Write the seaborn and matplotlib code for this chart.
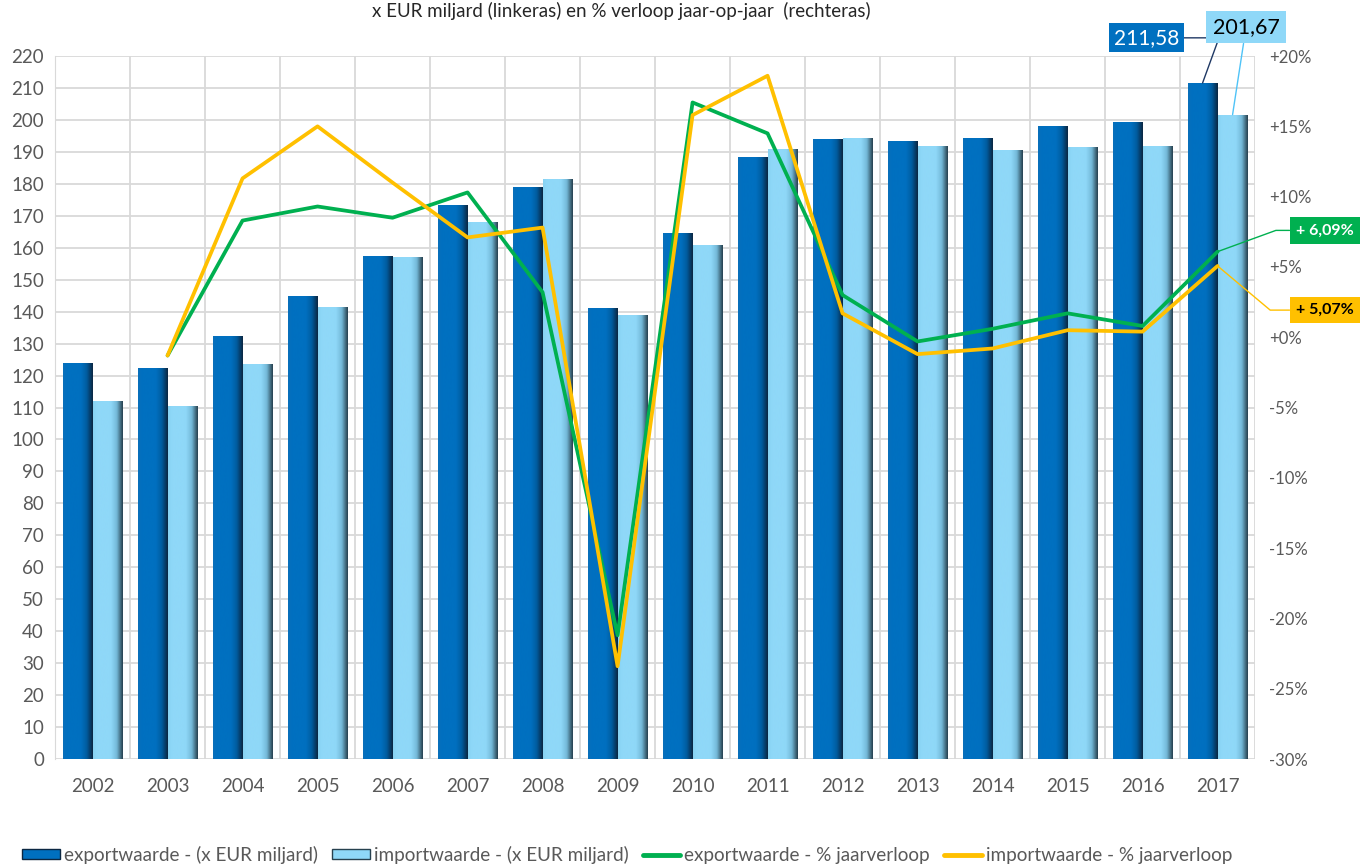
import numpy as np
import pandas as pd
import matplotlib
matplotlib.use("Agg")
import matplotlib.pyplot as plt
from matplotlib.colors import LinearSegmentedColormap
from matplotlib.lines import Line2D
from matplotlib.patches import Patch
import seaborn as sns

# data
years = ['2002', '2003', '2004', '2005', '2006', '2007', '2008', '2009',
         '2010', '2011', '2012', '2013', '2014', '2015', '2016', '2017']
export_value = [124, 122.5, 132.5, 145, 157.5, 173.5, 179, 141,
                164.5, 188.5, 194, 193.5, 194.5, 198, 199.5, 211.58]
import_value = [112, 110.5, 123.5, 141.5, 157, 168, 181.5, 139,
                161, 191, 194.5, 192, 190.5, 191.5, 192, 201.67]
# year-on-year %, starting in 2003
pct_years = years[1:]
export_pct = [-1.3, 8.3, 9.3, 8.5, 10.3, 3.2, -21.2, 16.7,
              14.5, 3.0, -0.3, 0.6, 1.7, 0.8, 6.09]
import_pct = [-1.3, 11.3, 15.0, 11.0, 7.1, 7.8, -23.4, 15.8,
              18.6, 1.7, -1.2, -0.8, 0.5, 0.4, 5.07]

exp_label = 'exportwaarde - (x EUR miljard)'
imp_label = 'importwaarde - (x EUR miljard)'
exp_pct_label = 'exportwaarde - % jaarverloop'
imp_pct_label = 'importwaarde - % jaarverloop'

c_exp = '#0070C0'
c_imp = '#8FD8F8'
c_green = '#00B050'
c_yellow = '#FFC000'
txt = '#595959'

sns.set_style('white')
plt.rcParams['font.family'] = ['Lato', 'DejaVu Sans']

bars = pd.DataFrame({
    'jaar': years * 2,
    'waarde': export_value + import_value,
    'reeks': [exp_label] * len(years) + [imp_label] * len(years),
})

fig = plt.figure(figsize=(13.66, 8.65), dpi=100)
ax = fig.add_axes([0.0403, 0.1225, 0.8785, 0.8127])

sns.barplot(data=bars, x='jaar', y='waarde', hue='reeks',
            palette=[c_exp, c_imp], saturation=1, width=0.78, dodge=True,
            ax=ax, legend=False, zorder=2)

# shaded "3D" look: horizontal gradient clipped to each bar
cm_exp = LinearSegmentedColormap.from_list(
    'e', [(0, '#0A6FBA'), (0.12, '#0070C0'), (0.6, '#0070C0'), (0.8, '#005C9F'), (1, '#0B2742')])
cm_imp = LinearSegmentedColormap.from_list(
    'i', [(0, '#86D2F2'), (0.12, '#8FD8F8'), (0.6, '#8FD8F8'), (0.8, '#74B9D8'), (1, '#27414F')])
grad = np.linspace(0, 1, 64).reshape(1, -1)
n = len(years)
for i, p in enumerate(ax.patches[:2 * n]):
    p.set_linewidth(0)
    x0, w, h = p.get_x(), p.get_width(), p.get_height()
    im = ax.imshow(grad, cmap=cm_exp if i < n else cm_imp, aspect='auto',
                   extent=(x0, x0 + w, 0, h), zorder=2.5, interpolation='bicubic')
    im.set_clip_path(p)

ax.set_xlim(-0.5, 15.5)
ax.set_ylim(0, 220)
ax.set_yticks(np.arange(0, 221, 10))
ax.set_xlabel('')
ax.set_ylabel('')
ax.set_xticks(range(len(years)))
ax.set_xticklabels(years)
ax.set_xticks(np.arange(-0.5, 16, 1), minor=True)
ax.grid(axis='y', color='#D9D9D9', lw=1.3, zorder=0)
ax.grid(axis='x', which='minor', color='#D9D9D9', lw=1.3, zorder=0)
ax.grid(axis='x', which='major', visible=False)
ax.tick_params(axis='both', which='both', length=0, labelsize=13.5, colors=txt)
ax.tick_params(axis='x', pad=14)
ax.tick_params(axis='y', pad=8)
for s in ['top', 'right', 'bottom']:
    ax.spines[s].set_visible(False)
ax.spines['left'].set_color('#D9D9D9')
ax.set_axisbelow(True)

ax2 = ax.twinx()
xpos = [years.index(y) for y in pct_years]
sns.lineplot(x=xpos, y=export_pct, color=c_green, lw=2.7, ax=ax2)
sns.lineplot(x=xpos, y=import_pct, color=c_yellow, lw=2.7, ax=ax2)
ax2.set_ylim(-30, 20)
ax2.set_yticks(np.arange(-30, 21, 5))
ax2.set_yticklabels([f'+{v}%' if v >= 0 else f'{v}%' for v in range(-30, 21, 5)])
ax2.tick_params(axis='y', length=0, labelsize=12, colors=txt, pad=10)
for s in ax2.spines.values():
    s.set_visible(False)
ax2.set_xlim(-0.5, 15.5)

# data labels for 2017
ax.annotate('211,58', xy=(14.8, export_value[-1]), xytext=(14.05, 225.7),
            ha='center', va='center', fontsize=15, color='white', annotation_clip=False,
            bbox=dict(boxstyle='square,pad=0.22', fc=c_exp, ec='none'),
            arrowprops=dict(arrowstyle='-', color='#1F3864', lw=1, shrinkA=0, shrinkB=0,
                            connectionstyle='angle,angleA=0,angleB=70,rad=0'))
ax.annotate('201,67', xy=(15.2, import_value[-1]), xytext=(15.38, 229.1),
            ha='center', va='center', fontsize=15.5, color='black', annotation_clip=False,
            bbox=dict(boxstyle='square,pad=0.3', fc=c_imp, ec='none'),
            arrowprops=dict(arrowstyle='-', color='#4FC3F7', lw=1, shrinkA=0, shrinkB=0))
ax2.annotate('+ 6,09%', xy=(15.0, export_pct[-1]), xytext=(16.43, 7.6),
             ha='center', va='center', fontsize=11.5, color='white',
             fontweight='bold', annotation_clip=False,
             bbox=dict(boxstyle='square,pad=0.4', fc=c_green, ec='none'),
             arrowprops=dict(arrowstyle='-', color=c_green, lw=1, shrinkA=0, shrinkB=0,
                             connectionstyle='angle,angleA=0,angleB=20,rad=0'))
ax2.annotate('+ 5,07%', xy=(15.0, import_pct[-1]), xytext=(16.43, 1.93),
             ha='center', va='center', fontsize=11.5, color='black',
             fontweight='bold', annotation_clip=False,
             bbox=dict(boxstyle='square,pad=0.4', fc=c_yellow, ec='none'),
             arrowprops=dict(arrowstyle='-', color=c_yellow, lw=1, shrinkA=0, shrinkB=0,
                             connectionstyle='angle,angleA=0,angleB=-40,rad=0'))

fig.text(0.455, 0.987, 'x EUR miljard (linkeras) en % verloop jaar-op-jaar  (rechteras)',
         ha='center', va='center', fontsize=13.5, color='#262626')

handles = [Patch(fc=c_exp, ec='#0B2742'), Patch(fc=c_imp, ec='#27414F'),
           Line2D([], [], color=c_green, lw=3.5), Line2D([], [], color=c_yellow, lw=3.5)]
fig.legend(handles, [exp_label, imp_label, exp_pct_label, imp_pct_label],
           loc='lower left', bbox_to_anchor=(0.004, -0.018), ncol=4, frameon=False,
           fontsize=13.6, labelcolor=txt, handlelength=2.0, handleheight=0.45,
           handletextpad=0.2, columnspacing=0.75)

fig.savefig('out.png', dpi=100)
